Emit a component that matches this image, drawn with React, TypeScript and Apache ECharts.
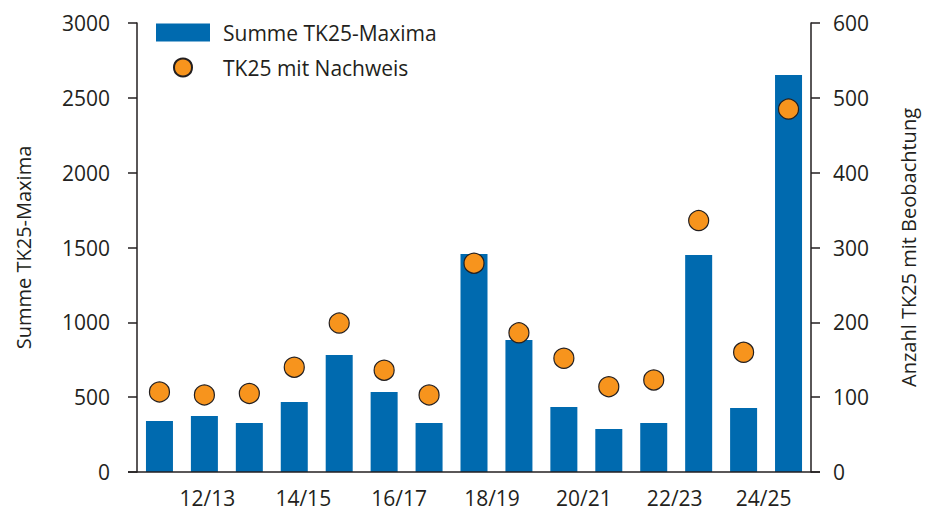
import React, { useEffect, useRef } from "react";
import * as echarts from "echarts";

const seasons = ["11/12", "12/13", "13/14", "14/15", "15/16", "16/17", "17/18", "18/19", "19/20", "20/21", "21/22", "22/23", "23/24", "24/25", "25/26"];
const summeMaxima = [341, 374, 327, 468, 782, 534, 327, 1456, 882, 434, 287, 327, 1450, 428, 2652];
const tk25Nachweis = [107, 103, 105, 140, 199, 136, 103, 279, 186, 152, 114, 123, 336, 160, 485];
const leftTicks = [0, 500, 1000, 1500, 2000, 2500, 3000];
const rightTicks = [0, 100, 200, 300, 400, 500, 600];

const FONT = "'Open Sans', sans-serif";
const TXT = "#231F20";

// horizontal shift (px) of each shown season label, as in the reference
const labelShift: Record<number, number> = { 1: 3, 3: 9, 5: 15, 7: 18, 9: 20, 11: 21, 13: 20 };

export default function App() {
  const ref = useRef<HTMLDivElement>(null);
  useEffect(() => {
    if (!ref.current) return;
    const chart = echarts.init(ref.current, null, { renderer: "svg" });
    const rich: Record<string, any> = {};
    Object.keys(labelShift).forEach((k) => {
      rich["s" + k] = {
        fontFamily: FONT,
        fontSize: 21,
        color: TXT,
        padding: [0, 0, 0, labelShift[Number(k)] * 2],
      };
    });
    chart.setOption({
      animation: false,
      textStyle: { fontFamily: FONT, color: TXT },
      grid: { left: 137, right: 126, top: 23, bottom: 38 },
      legend: {
        orient: "vertical",
        left: 151,
        top: 17,
        itemWidth: 54,
        itemHeight: 18,
        itemGap: 14,
        textStyle: { fontFamily: FONT, fontSize: 21, color: TXT, padding: [0, 0, 0, 8] },
        data: [
          { name: "Summe TK25-Maxima", icon: "rect" },
          { name: "TK25 mit Nachweis", icon: "circle" },
        ],
      },
      xAxis: {
        type: "category",
        data: seasons,
        boundaryGap: true,
        axisLine: { show: false },
        axisTick: { show: false },
        axisLabel: {
          interval: (i: number) => i % 2 === 1,
          fontFamily: FONT,
          fontSize: 21,
          color: TXT,
          margin: 15,
          formatter: (v: string, i: number) => (labelShift[i] !== undefined ? `{s${i}|${v}}` : v),
          rich,
        },
      },
      yAxis: [
        {
          type: "value",
          min: leftTicks[0],
          max: leftTicks[leftTicks.length - 1],
          interval: 500,
          name: "Summe TK25-Maxima",
          nameLocation: "middle",
          nameGap: 104,
          nameTextStyle: { fontFamily: FONT, fontSize: 20, color: TXT },
          axisLine: { show: true, lineStyle: { color: TXT, width: 1.5 } },
          axisTick: { show: true, length: 9, lineStyle: { color: TXT, width: 1.5 } },
          axisLabel: { fontFamily: FONT, fontSize: 21, color: TXT, margin: 27, formatter: (v: number) => String(v) },
          splitLine: { show: false },
        },
        {
          type: "value",
          min: rightTicks[0],
          max: rightTicks[rightTicks.length - 1],
          interval: 100,
          name: "Anzahl TK25 mit Beobachtung",
          nameLocation: "middle",
          nameGap: 87,
          nameTextStyle: { fontFamily: FONT, fontSize: 20, color: TXT },
          axisLine: { show: true, lineStyle: { color: TXT, width: 1.5 } },
          axisTick: { show: true, length: 9, lineStyle: { color: TXT, width: 1.5 } },
          axisLabel: { fontFamily: FONT, fontSize: 21, color: TXT, margin: 22, formatter: (v: number) => String(v) },
          splitLine: { show: false },
        },
      ],
      series: [
        {
          name: "Summe TK25-Maxima",
          type: "bar",
          yAxisIndex: 0,
          data: summeMaxima,
          barWidth: 27,
          itemStyle: { color: "#006AAF" },
        },
        {
          name: "TK25 mit Nachweis",
          type: "scatter",
          yAxisIndex: 1,
          data: tk25Nachweis,
          symbol: "circle",
          symbolSize: 20,
          itemStyle: { color: "#F7941D", borderColor: "#231F20", borderWidth: 1.2, opacity: 1 },
          z: 5,
        },
      ],
      graphic: [
        {
          type: "line",
          shape: { x1: 128, y1: 472, x2: 820, y2: 472 },
          style: { stroke: TXT, lineWidth: 1.5 },
          z: 10,
        },
      ],
    });
    return () => chart.dispose();
  }, []);
  return <div ref={ref} style={{ position: "absolute", left: 0, top: 0, width: 937, height: 510 }} />;
}
